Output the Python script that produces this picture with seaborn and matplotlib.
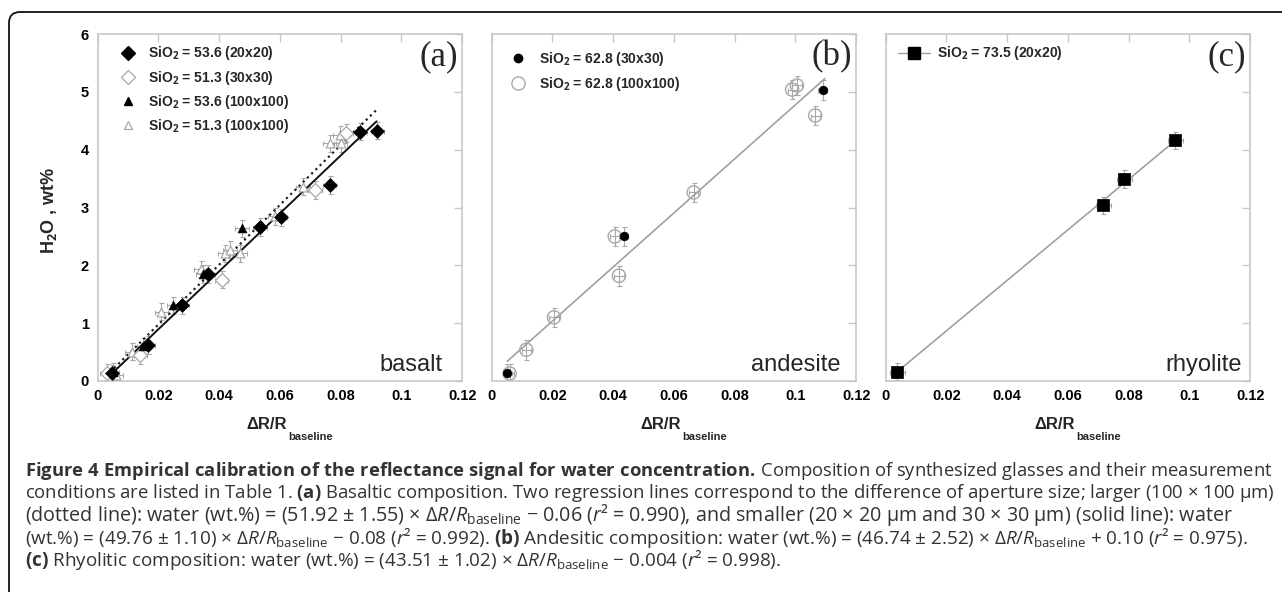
import matplotlib
matplotlib.use("Agg")
import matplotlib.pyplot as plt
import seaborn as sns
from matplotlib.lines import Line2D
from matplotlib.patches import FancyBboxPatch
from matplotlib.transforms import IdentityTransform

# ---------------- data ----------------
x_ticks = [0, 0.02, 0.04, 0.06, 0.08, 0.10, 0.12]
x_tick_labels = ["0", "0.02", "0.04", "0.06", "0.08", "0.1", "0.12"]
y_ticks = [0, 1, 2, 3, 4, 5, 6]
y_tick_labels = ["0", "1", "2", "3", "4", "5", "6"]

# (a) basalt
bas_536_small_x = [0.0046, 0.0165, 0.0278, 0.0364, 0.0534, 0.0602, 0.0764, 0.0863, 0.0921]
bas_536_small_y = [0.13, 0.62, 1.31, 1.85, 2.66, 2.83, 3.39, 4.31, 4.33]
bas_513_small_x = [0.0030, 0.0140, 0.0408, 0.0715, 0.0819]
bas_513_small_y = [0.14, 0.45, 1.75, 3.30, 4.29]
bas_536_large_x = [0.0049, 0.0150, 0.0249, 0.0347, 0.0475]
bas_536_large_y = [0.16, 0.60, 1.31, 1.85, 2.64]
bas_513_large_x = [0.0060, 0.0112, 0.0210, 0.0340, 0.0419, 0.0436, 0.0469, 0.0583, 0.0676, 0.0764, 0.0797, 0.0800]
bas_513_large_y = [0.10, 0.51, 1.20, 1.93, 2.21, 2.27, 2.21, 2.85, 3.36, 4.11, 4.26, 4.11]
bas_xerr = 0.0022
bas_yerr = 0.15
bas_fit_small_x = [0.0041, 0.0918]
bas_fit_small_y = [0.10, 4.49]
bas_fit_large_x = [0.0040, 0.0924]
bas_fit_large_y = [0.15, 4.72]

# (b) andesite
and_30_x = [0.0051, 0.0435, 0.1090]
and_30_y = [0.13, 2.50, 5.03]
and_100_x = [0.0059, 0.0114, 0.0205, 0.0405, 0.0419, 0.0665, 0.0989, 0.1005, 0.1065]
and_100_y = [0.13, 0.54, 1.10, 2.50, 1.82, 3.26, 5.04, 5.11, 4.59]
and_xerr = 0.0015
and_yerr = 0.17
and_fit_x = [0.0051, 0.1097]
and_fit_y = [0.34, 5.23]

# (c) rhyolite
rhy_x = [0.0038, 0.0716, 0.0786, 0.0954]
rhy_y = [0.16, 3.04, 3.49, 4.16]
rhy_xerr = 0.0025
rhy_yerr = 0.15
rhy_fit_x = [0.0038, 0.0954]
rhy_fit_y = [0.16, 4.16]

legend_a = [r"SiO$_\mathbf{2}$ = 53.6 (20x20)", r"SiO$_\mathbf{2}$ = 51.3 (30x30)",
            r"SiO$_\mathbf{2}$ = 53.6 (100x100)", r"SiO$_\mathbf{2}$ = 51.3 (100x100)"]
legend_b = [r"SiO$_\mathbf{2}$ = 62.8 (30x30)", r"SiO$_\mathbf{2}$ = 62.8 (100x100)"]
legend_c = [r"SiO$_\mathbf{2}$ = 73.5 (20x20)"]
panel_tags = ["(a)", "(b)", "(c)"]
rock_names = ["basalt", "andesite", "rhyolite"]

caption_lines = [
    r"$\mathbf{Figure\ 4\ Empirical\ calibration\ of\ the\ reflectance\ signal\ for\ water\ concentration.}\,$Composition of synthesized glasses and their measurement",
    r"conditions are listed in Table 1. $\mathbf{(a)}$ Basaltic composition. Two regression lines correspond to the difference of aperture size; larger (100 × 100 μm)",
    r"(dotted line): water (wt.%) = (51.92 ± 1.55) × $\mathit{\Delta R/R}_{\mathrm{baseline}}$ − 0.06 ($\mathit{r}$² = 0.990), and smaller (20 × 20 μm and 30 × 30 μm) (solid line): water",
    r"(wt.%) = (49.76 ± 1.10) × $\mathit{\Delta R/R}_{\mathrm{baseline}}$ − 0.08 ($\mathit{r}$² = 0.992). $\mathbf{(b)}$ Andesitic composition: water (wt.%) = (46.74 ± 2.52) × $\mathit{\Delta R/R}_{\mathrm{baseline}}$ + 0.10 ($\mathit{r}$² = 0.975).",
    r"$\mathbf{(c)}$ Rhyolitic composition: water (wt.%) = (43.51 ± 1.02) × $\mathit{\Delta R/R}_{\mathrm{baseline}}$ − 0.004 ($\mathit{r}$² = 0.998).",
]

# ---------------- style ----------------
sns.set_theme(style="white")
plt.rcParams["font.family"] = ["Liberation Sans", "DejaVu Sans"]
plt.rcParams["mathtext.fontset"] = "custom"
plt.rcParams["mathtext.rm"] = "Open Sans"
plt.rcParams["mathtext.it"] = "Open Sans:italic"
plt.rcParams["mathtext.bf"] = "Open Sans:bold"

W, H = 1282, 592
fig = plt.figure(figsize=(W / 100, H / 100), dpi=100)
fig.patch.set_facecolor("white")

# outer rounded frame (only top and left edges visible)
frame = FancyBboxPatch((9, -40), 1400, H - 12 + 40,
                       boxstyle="round,pad=0,rounding_size=11",
                       transform=IdentityTransform(), fill=False,
                       ec="#111111", lw=1.3)
fig.add_artist(frame)

lefts = [97.7, 491.7, 885.7]
ax_w, ax_top, ax_bot = 364.5, 34, 381
axes = []
for L in lefts:
    ax = fig.add_axes([L / W, 1 - ax_bot / H, ax_w / W, (ax_bot - ax_top) / H])
    axes.append(ax)

GRAY = "#a8a8a8"
SPINE = "#c8c8c8"

for i, ax in enumerate(axes):
    ax.set_xlim(0, 0.12)
    ax.set_ylim(0, 6)
    ax.set_xticks(x_ticks, x_tick_labels, fontweight="bold", fontsize=10.5)
    if i == 0:
        ax.set_yticks(y_ticks, y_tick_labels, fontweight="bold", fontsize=10.5)
    else:
        ax.set_yticks(y_ticks)
        ax.tick_params(labelleft=False)
    ax.tick_params(direction="in", top=True, right=True, length=6, width=1,
                   color=SPINE, labelcolor="black")
    ax.tick_params(axis="x", pad=5.5)
    ax.tick_params(axis="y", pad=6.3)
    for sp in ax.spines.values():
        sp.set_color(SPINE)
        sp.set_linewidth(1.2)
    ax.set_xlabel("")
    ax.set_ylabel("")
    # x label  ΔR/R_baseline
    ax.text(0.4636, -0.1268, "ΔR/R", transform=ax.transAxes, ha="center", va="center",
            fontsize=12, fontweight="bold")
    ax.text(0.523, -0.1605, "baseline", transform=ax.transAxes, ha="left", va="center",
            fontsize=8, fontweight="bold")
    # panel tag
    ax.text(0.988, 0.934, panel_tags[i], transform=ax.transAxes, ha="right", va="center",
            fontsize=25, family="Liberation Serif")

axes[0].text(-0.134, 0.493, r"H$_\mathbf{2}$O , wt%", transform=axes[0].transAxes,
             rotation=90, ha="center", va="center", fontsize=13, fontweight="bold")

rock_x = [0.947, 0.9556, 0.9767]
for i, ax in enumerate(axes):
    ax.text(rock_x[i], 0.03, rock_names[i], transform=ax.transAxes, ha="right",
            va="baseline", fontsize=17)

# ---------------- panel (a) ----------------
ax = axes[0]
for xs, ys in [(bas_513_large_x, bas_513_large_y), (bas_513_small_x, bas_513_small_y),
               (bas_536_large_x, bas_536_large_y), (bas_536_small_x, bas_536_small_y)]:
    ax.errorbar(xs, ys, xerr=bas_xerr, yerr=bas_yerr, fmt="none", ecolor=GRAY,
                elinewidth=0.8, capsize=1.8, capthick=0.8, zorder=1)
sns.lineplot(x=bas_fit_large_x, y=bas_fit_large_y, ax=ax, color="#222222",
             linestyle=":", linewidth=1.6, estimator=None, sort=False, zorder=2)
sns.lineplot(x=bas_fit_small_x, y=bas_fit_small_y, ax=ax, color="#111111",
             linewidth=1.4, estimator=None, sort=False, zorder=2)
sns.scatterplot(x=bas_513_large_x, y=bas_513_large_y, ax=ax, marker="^", s=40,
                color="white", edgecolor=GRAY, linewidth=0.9, zorder=3)
sns.scatterplot(x=bas_513_small_x, y=bas_513_small_y, ax=ax, marker="D", s=50,
                color="white", edgecolor=GRAY, linewidth=0.9, zorder=3)
sns.scatterplot(x=bas_536_large_x, y=bas_536_large_y, ax=ax, marker="^", s=40,
                color="black", edgecolor="black", linewidth=0.5, zorder=4)
sns.scatterplot(x=bas_536_small_x, y=bas_536_small_y, ax=ax, marker="D", s=50,
                color="black", edgecolor="black", linewidth=0.5, zorder=4)
h_a = [Line2D([], [], ls="none", marker="D", ms=7, mfc="black", mec="black"),
       Line2D([], [], ls="none", marker="D", ms=7, mfc="white", mec=GRAY, mew=0.9),
       Line2D([], [], ls="none", marker="^", ms=5.5, mfc="black", mec="black"),
       Line2D([], [], ls="none", marker="^", ms=5.5, mfc="white", mec=GRAY, mew=0.9)]
ax.legend(h_a, legend_a, loc="upper left", bbox_to_anchor=(0.064, 0.970), frameon=False,
          borderpad=0, borderaxespad=0, handlelength=1.0, handletextpad=0.95,
          labelspacing=0.45, prop={"weight": "bold", "size": 10})

# ---------------- panel (b) ----------------
ax = axes[1]
for xs, ys in [(and_100_x, and_100_y), (and_30_x, and_30_y)]:
    ax.errorbar(xs, ys, xerr=and_xerr, yerr=and_yerr, fmt="none", ecolor=GRAY,
                elinewidth=0.8, capsize=1.8, capthick=0.8, zorder=1)
sns.lineplot(x=and_fit_x, y=and_fit_y, ax=ax, color="#a0a0a0", linewidth=1.2,
             estimator=None, sort=False, zorder=2)
sns.scatterplot(x=and_100_x, y=and_100_y, ax=ax, marker="o", s=90, color="none",
                edgecolor=GRAY, linewidth=1.0, zorder=3)
sns.scatterplot(x=and_30_x, y=and_30_y, ax=ax, marker="o", s=38, color="black",
                edgecolor="black", linewidth=0.5, zorder=4)
h_b = [Line2D([], [], ls="none", marker="o", ms=6, mfc="black", mec="black"),
       Line2D([], [], ls="none", marker="o", ms=9.5, mfc="none", mec=GRAY, mew=1.0)]
ax.legend(h_b, legend_b, loc="upper left", bbox_to_anchor=(0.053, 0.953), frameon=False,
          borderpad=0, borderaxespad=0, handlelength=1.0, handletextpad=1.0,
          labelspacing=0.45, prop={"weight": "bold", "size": 10})

# ---------------- panel (c) ----------------
ax = axes[2]
ax.errorbar(rhy_x, rhy_y, xerr=rhy_xerr, yerr=rhy_yerr, fmt="none", ecolor=GRAY,
            elinewidth=0.8, capsize=1.8, capthick=0.8, zorder=1)
sns.lineplot(x=rhy_fit_x, y=rhy_fit_y, ax=ax, color="#a0a0a0", linewidth=1.2,
             estimator=None, sort=False, zorder=2)
sns.scatterplot(x=rhy_x, y=rhy_y, ax=ax, marker="s", s=64, color="black",
                edgecolor="black", linewidth=0.5, zorder=4)
h_c = [Line2D([], [], color="#a0a0a0", lw=1.0, marker="s", ms=8, mfc="black", mec="black")]
ax.legend(h_c, legend_c, loc="upper left", bbox_to_anchor=(0.034, 0.970), frameon=False,
          borderpad=0, borderaxespad=0, handlelength=2.3, handletextpad=0.5,
          labelspacing=0.45, prop={"weight": "bold", "size": 10})

# ---------------- caption ----------------
cap_baselines = [476, 498.5, 521, 543.5, 566]
cap_widths = [1250, 1244, 1210, 1218, 757]
renderer = fig.canvas.get_renderer()
for s, yb, tw in zip(caption_lines, cap_baselines, cap_widths):
    t = fig.text(25 / W, 1 - yb / H, s, fontsize=10.5, family="Open Sans",
                 color="#333333", ha="left", va="baseline")
    for _ in range(3):
        w = t.get_window_extent(renderer).width
        t.set_fontsize(t.get_fontsize() * tw / w)

fig.savefig("out.png", dpi=100)
